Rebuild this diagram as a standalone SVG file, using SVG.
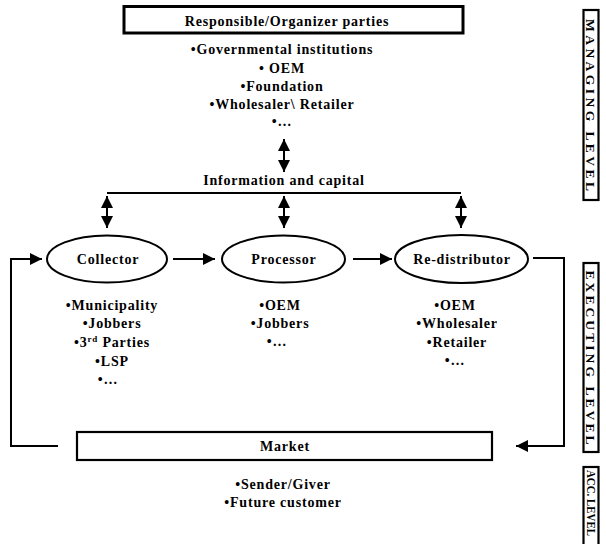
<svg xmlns="http://www.w3.org/2000/svg" width="606" height="544" viewBox="0 0 606 544">
  <style>
    text { font-family: "Liberation Serif", "Times New Roman", serif; font-weight: bold; fill: #000; }
    .t { font-size: 14px; letter-spacing: 0.8px; text-anchor: middle; }
    .lv { font-size: 13.5px; text-anchor: middle; }
    .box { fill: #fff; stroke: #000; stroke-width: 2.2; }
    .thick { fill: #fff; stroke: #000; stroke-width: 3; }
    .node { fill: #fff; stroke: #000; stroke-width: 2; }
    .ln { fill: none; stroke: #000; stroke-width: 2; }
    .sup { font-size: 9px; }
  </style>
  <defs>
    <marker id="head" viewBox="0 0 10 10" refX="10" refY="5" markerWidth="6" markerHeight="6" markerUnits="strokeWidth" orient="auto-start-reverse">
      <path d="M0,0 L10,5 L0,10 Z" fill="#000"/>
    </marker>
  </defs>

  <!-- managing level: organizer parties -->
  <g id="organizers">
    <rect class="thick" x="124" y="6.5" width="339" height="26.5"/>
    <text class="t" x="287" y="26">Responsible/Organizer parties</text>
    <text class="t" x="282" y="54">•Governmental institutions</text>
    <text class="t" x="282" y="73">• OEM</text>
    <text class="t" x="282" y="91">•Foundation</text>
    <text class="t" x="282" y="109">•Wholesaler\ Retailer</text>
    <text class="t" x="282" y="126">•…</text>
  </g>

  <g id="info-capital">
    <text class="t" x="284" y="185">Information and capital</text>
  </g>

  <!-- executing level nodes -->
  <g id="collector">
    <ellipse class="node" cx="107" cy="259" rx="60" ry="23.5"/>
    <text class="t" x="108" y="264">Collector</text>
    <text class="t" x="112" y="310">•Municipality</text>
    <text class="t" x="112" y="328">•Jobbers</text>
    <text class="t" x="112" y="347">•3<tspan class="sup" dy="-5">rd</tspan><tspan dy="5"> Parties</tspan></text>
    <text class="t" x="112" y="366">•LSP</text>
    <text class="t" x="108" y="384">•…</text>
  </g>

  <g id="processor">
    <ellipse class="node" cx="283.5" cy="259" rx="61.5" ry="23.5"/>
    <text class="t" x="284" y="264">Processor</text>
    <text class="t" x="280" y="310">•OEM</text>
    <text class="t" x="280" y="328">•Jobbers</text>
    <text class="t" x="277" y="346">•…</text>
  </g>

  <g id="redistributor">
    <ellipse class="node" cx="461.5" cy="259" rx="66.5" ry="24"/>
    <text class="t" x="462" y="264">Re-distributor</text>
    <text class="t" x="455" y="310">•OEM</text>
    <text class="t" x="457" y="328">•Wholesaler</text>
    <text class="t" x="457" y="347">•Retailer</text>
    <text class="t" x="455" y="365">•…</text>
  </g>

  <!-- accumulation level -->
  <g id="market">
    <rect class="box" x="77" y="432" width="415" height="28"/>
    <text class="t" x="285" y="451">Market</text>
    <text class="t" x="283" y="489">•Sender/Giver</text>
    <text class="t" x="283" y="507">•Future customer</text>
  </g>

  <!-- level labels -->
  <g id="level-managing">
    <rect class="box" x="583.5" y="10" width="15" height="190"/>
    <text class="lv" transform="translate(591,105) rotate(90)" y="4.8" textLength="172" lengthAdjust="spacing">MANAGING LEVEL</text>
  </g>
  <g id="level-executing">
    <rect class="box" x="583.5" y="263" width="15" height="189"/>
    <text class="lv" transform="translate(591,357.5) rotate(90)" y="4.8" textLength="174" lengthAdjust="spacing">EXECUTING LEVEL</text>
  </g>
  <g id="level-acc">
    <rect class="box" x="583.5" y="467" width="15" height="82"/>
    <text class="lv" style="font-size:12px" transform="translate(591,503) rotate(90)" y="4.3" textLength="66" lengthAdjust="spacingAndGlyphs">ACC. LEVEL</text>
  </g>

  <!-- connectors -->
  <g id="connectors">
    <!-- information and capital bar -->
    <path class="ln" d="M107,193 H461"/>
    <line class="ln" x1="284" y1="139" x2="284" y2="172" marker-start="url(#head)" marker-end="url(#head)"/>
    <line class="ln" x1="107" y1="196" x2="107" y2="228" marker-start="url(#head)" marker-end="url(#head)"/>
    <line class="ln" x1="284" y1="196" x2="284" y2="228" marker-start="url(#head)" marker-end="url(#head)"/>
    <line class="ln" x1="461" y1="196" x2="461" y2="228" marker-start="url(#head)" marker-end="url(#head)"/>
    <!-- material flow -->
    <line class="ln" x1="173" y1="259" x2="215" y2="259" marker-end="url(#head)"/>
    <line class="ln" x1="353" y1="259" x2="392" y2="259" marker-end="url(#head)"/>
    <path class="ln" d="M533,258 H564 V446 H516" marker-end="url(#head)"/>
    <path class="ln" d="M58,446 H11 V259 H42" marker-end="url(#head)"/>
  </g>
</svg>
